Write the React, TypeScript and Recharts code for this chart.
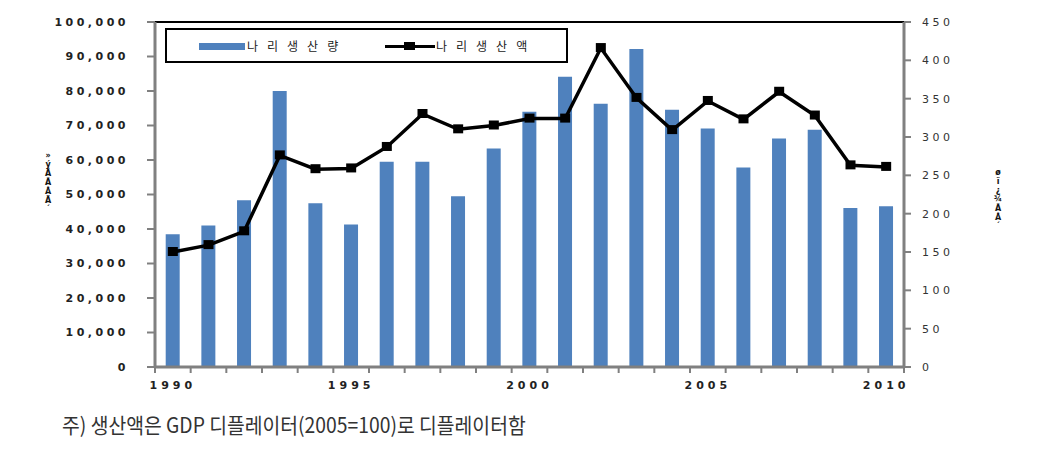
import React from 'react';
import {
  ComposedChart,
  Bar,
  Line,
  XAxis,
  YAxis,
  Legend,
  ReferenceLine
} from 'recharts';

const years = [
  1990, 1991, 1992, 1993, 1994, 1995, 1996, 1997, 1998, 1999, 2000,
  2001, 2002, 2003, 2004, 2005, 2006, 2007, 2008, 2009, 2010
];

// 나리 생산량 (톤)
const volume = [
  38500, 41000, 48300, 80000, 47500, 41300, 59500, 59500, 49500, 63300, 74000,
  84100, 76300, 92200, 74600, 69100, 57800, 66200, 68800, 46100, 46600
];

// 나리 생산액 (억원)
const value = [
  150, 159, 177, 276, 258, 259, 287, 330, 310, 315, 324,
  324, 416, 351, 309, 347, 323, 359, 328, 263, 261
];

const leftTicks = [0, 10000, 20000, 30000, 40000, 50000, 60000, 70000, 80000, 90000, 100000];
const rightTicks = [0, 50, 100, 150, 200, 250, 300, 350, 400, 450];
const labelYears = [1990, 1995, 2000, 2005, 2010];

const chartData = years.map((year, i) => ({
  year,
  volume: volume[i],
  value: value[i]
}));

const AXIS = '#808080';
const BAR = '#4F81BD';

const XTick = ({ x, y, payload, index }: any) => {
  const half = payload && payload.offset ? payload.offset : 17.8;
  const isLast = index === years.length - 1;
  return (
    <g>
      <line x1={x - half} y1={y - 8} x2={x - half} y2={y - 2} stroke={AXIS} strokeWidth={2} />
      {isLast && (
        <line x1={x + half} y1={y - 8} x2={x + half} y2={y - 2} stroke={AXIS} strokeWidth={2} />
      )}
      {labelYears.includes(payload.value) && (
        <text
          x={x}
          y={y + 14}
          textAnchor="middle"
          fontFamily="DejaVu Sans"
          fontWeight="bold"
          fontSize={11}
          letterSpacing={4}
          fill="#222"
        >
          {payload.value}
        </text>
      )}
    </g>
  );
};

const SquareDot = ({ cx, cy }: any) => (
  <rect x={cx - 5} y={cy - 5} width={10} height={9} fill="#000" />
);

// garbled (mojibake) axis titles, stacked vertically as in the source image
const StackedTitle = ({ chars, x, y }: { chars: string[]; x: number; y: number }) => (
  <text fontFamily="DejaVu Sans" fontWeight="bold" fontSize={8} fill="#111" textAnchor="middle">
    {chars.map((c, i) => (
      <tspan key={i} x={x} y={y + i * 9}>
        {c}
      </tspan>
    ))}
  </text>
);

const renderLegend = () => (
  <div
    style={{
      boxSizing: 'border-box',
      width: 403,
      height: 35,
      border: '2px solid #000',
      background: '#fff',
      position: 'relative',
      fontFamily: '"Noto Sans CJK KR"',
      fontSize: 12,
      letterSpacing: 9,
      color: '#222'
    }}
  >
    <div style={{ position: 'absolute', left: 32, top: 13, width: 46, height: 7, background: BAR }} />
    <div style={{ position: 'absolute', left: 80, top: 6, lineHeight: '20px' }}>나리생산량</div>
    <div style={{ position: 'absolute', left: 218, top: 15, width: 50, height: 3, background: '#000' }} />
    <div style={{ position: 'absolute', left: 237, top: 12, width: 11, height: 8, background: '#000' }} />
    <div style={{ position: 'absolute', left: 269, top: 6, lineHeight: '20px' }}>나리생산액</div>
  </div>
);

export default function App() {
  return (
    <div
      style={{
        position: 'absolute',
        left: 0,
        top: 0,
        width: 1038,
        height: 456,
        background: '#fff'
      }}
    >
      <ComposedChart
        width={1038}
        height={400}
        data={chartData}
        margin={{ top: 22, right: 0, left: 0, bottom: 3 }}
        barCategoryGap="30%"
      >
        <XAxis
          dataKey="year"
          xAxisId={0}
          interval={0}
          height={30}
          axisLine={{ stroke: AXIS, strokeWidth: 3 }}
          tickLine={false}
          tick={<XTick />}
        />
        <YAxis
          yAxisId="left"
          orientation="left"
          width={155}
          domain={[0, 100000]}
          ticks={leftTicks}
          interval={0}
          axisLine={{ stroke: AXIS, strokeWidth: 3 }}
          tickLine={{ stroke: AXIS, strokeWidth: 2 }}
          tickSize={8}
          tickMargin={18}
          tickFormatter={(v: number) => v.toLocaleString('en-US')}
          tick={{ fontFamily: 'DejaVu Sans', fontWeight: 'bold', fontSize: 11, fill: '#222', letterSpacing: 3.5 }}
          label={{ content: () => <StackedTitle chars={['»', 'ý', 'Â', 'Ã', 'Å', 'Ä', '´']} x={48} y={158} /> }}
        />
        <YAxis
          yAxisId="right"
          orientation="right"
          width={134}
          domain={[0, 450]}
          ticks={rightTicks}
          interval={0}
          axisLine={{ stroke: AXIS, strokeWidth: 3 }}
          tickLine={{ stroke: AXIS, strokeWidth: 2 }}
          tickSize={7}
          tickMargin={11}
          tick={{ fontFamily: 'DejaVu Sans', fontSize: 11, fill: '#333', letterSpacing: 3.5 }}
          label={{ content: () => <StackedTitle chars={['ø', 'ï', '¿', '¾', 'Ã', 'Å', '´']} x={998} y={175} /> }}
        />
        <ReferenceLine yAxisId="left" y={100000} stroke="#000" strokeWidth={2} />
        <Legend
          verticalAlign="middle"
          layout="horizontal"
          content={renderLegend}
          wrapperStyle={{ left: 165, top: 28, width: 403, height: 35 }}
        />
        <Bar
          yAxisId="left"
          dataKey="volume"
          name="나리생산량"
          fill={BAR}
          isAnimationActive={false}
        />
        <Line
          yAxisId="right"
          dataKey="value"
          name="나리생산액"
          stroke="#000"
          strokeWidth={3.5}
          dot={<SquareDot />}
          activeDot={false}
          isAnimationActive={false}
        />
      </ComposedChart>
      <div
        style={{
          position: 'absolute',
          left: 62,
          top: 411,
          fontFamily: '"Noto Sans CJK KR"',
          fontSize: 21,
          lineHeight: '26px',
          color: '#333',
          whiteSpace: 'nowrap',
          transform: 'scaleX(0.92)',
          transformOrigin: 'left top'
        }}
      >
        주) 생산액은 GDP 디플레이터(2005=100)로 디플레이터함
      </div>
    </div>
  );
}
